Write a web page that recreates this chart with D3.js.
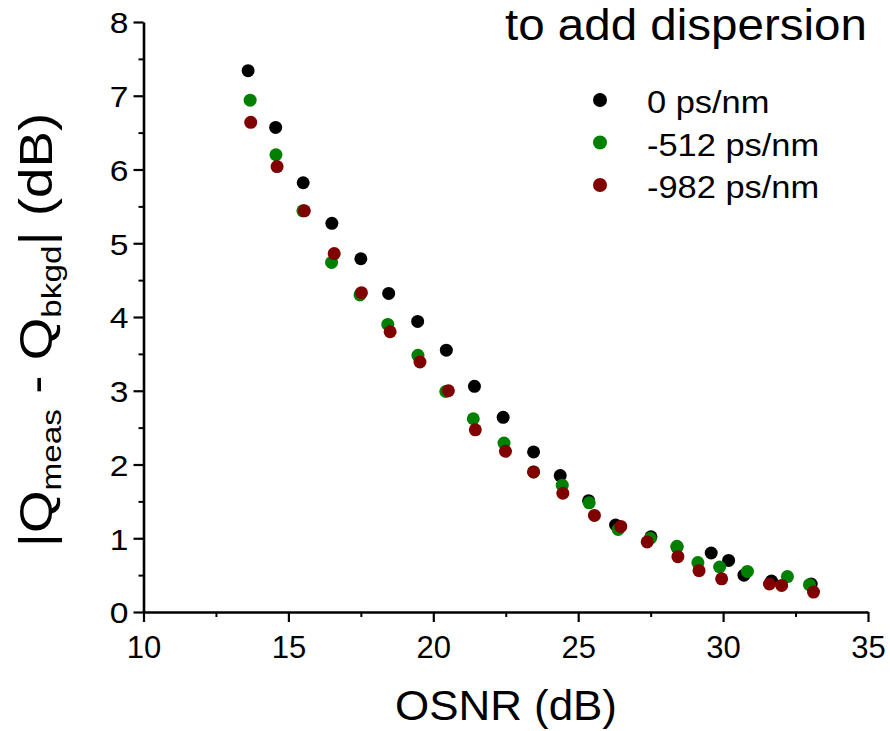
<!DOCTYPE html>
<html>
<head>
<meta charset="utf-8">
<script src="https://cdn.jsdelivr.net/npm/d3@7"></script>
<style>
  body { margin: 0; background: #fff; }
  svg text { font-family: "Liberation Sans", Arial, sans-serif; fill: #000; }
</style>
</head>
<body>
<div id="chart"></div>
<script>
// values
var seriesNames = ["0 ps/nm", "-512 ps/nm", "-982 ps/nm"];
var seriesColors = ["#000000", "#008000", "#800000"];

var osnr0 = [13.61, 14.56, 15.51, 16.50, 17.50, 18.46, 19.46, 20.45, 21.42, 22.41, 23.46, 24.38, 25.36, 26.29, 27.51, 28.41, 29.59, 30.19, 30.72, 31.67, 33.04];
var q0    = [7.34, 6.57, 5.82, 5.27, 4.79, 4.32, 3.94, 3.55, 3.06, 2.64, 2.17, 1.85, 1.51, 1.18, 1.02, 0.88, 0.80, 0.70, 0.50, 0.42, 0.38];

var osnr512 = [13.68, 14.57, 15.50, 16.49, 17.47, 18.43, 19.47, 20.43, 21.38, 22.44, 23.46, 24.45, 25.38, 26.38, 27.49, 28.41, 29.13, 29.88, 30.84, 32.22, 32.98];
var q512    = [6.94, 6.20, 5.44, 4.74, 4.30, 3.90, 3.48, 2.99, 2.62, 2.29, 1.90, 1.72, 1.48, 1.12, 1.00, 0.89, 0.67, 0.61, 0.55, 0.48, 0.37];

var osnr982 = [13.70, 14.61, 15.55, 16.58, 17.52, 18.51, 19.54, 20.52, 21.45, 22.49, 23.46, 24.47, 25.56, 26.47, 27.38, 28.44, 29.17, 29.95, 31.60, 32.02, 33.12];
var q982    = [6.64, 6.04, 5.44, 4.86, 4.33, 3.80, 3.39, 3.00, 2.47, 2.18, 1.90, 1.61, 1.31, 1.16, 0.95, 0.75, 0.56, 0.45, 0.38, 0.36, 0.27];

var xTicks = [10, 15, 20, 25, 30, 35];
var xMinor = [12.5, 17.5, 22.5, 27.5, 32.5];
var yTicks = [0, 1, 2, 3, 4, 5, 6, 7, 8];
var yMinor = [0.5, 1.5, 2.5, 3.5, 4.5, 5.5, 6.5, 7.5];

var series = [
    {name: seriesNames[0], color: seriesColors[0], xs: osnr0, ys: q0},
    {name: seriesNames[1], color: seriesColors[1], xs: osnr512, ys: q512},
    {name: seriesNames[2], color: seriesColors[2], xs: osnr982, ys: q982}
];

var W = 890, H = 731;
var margin = {top: 22, right: 22, bottom: 119, left: 143.5},
    width = W - margin.left - margin.right,
    height = H - margin.top - margin.bottom;

var x = d3.scaleLinear().domain([10, 35]).range([0, width]);
var y = d3.scaleLinear().domain([0, 8]).range([height, 0]);

var svg = d3.select("#chart").append("svg")
    .attr("width", W)
    .attr("height", H);

var g = svg.append("g")
    .attr("transform", "translate(" + margin.left + "," + margin.top + ")");

// the glyphs in the original run a bit wider than Liberation Sans
var stretch = function(sel, k) {
    sel.each(function() {
        var w = this.getComputedTextLength();
        d3.select(this).attr("textLength", w * k).attr("lengthAdjust", "spacingAndGlyphs");
    });
};

// minor ticks
g.append("g")
    .attr("transform", "translate(0," + height + ")")
    .call(d3.axisBottom(x).tickValues(xMinor).tickSize(5).tickFormat(""))
    .call(function(a) { a.select(".domain").remove(); })
    .selectAll("line").attr("stroke-width", 2);

g.append("g")
    .call(d3.axisLeft(y).tickValues(yMinor).tickSize(5).tickFormat(""))
    .call(function(a) { a.select(".domain").remove(); })
    .selectAll("line").attr("stroke-width", 2);

// major ticks + labels
var xAxis = g.append("g")
    .attr("transform", "translate(0," + height + ")")
    .call(d3.axisBottom(x).tickValues(xTicks).tickSize(10).tickSizeOuter(0).tickPadding(10));
xAxis.select(".domain").attr("stroke-width", 2.6);
xAxis.selectAll("line").attr("stroke-width", 2.2);
xAxis.selectAll("text")
    .attr("font-size", "31px")
    .attr("dy", null)
    .attr("y", 46);

var yAxis = g.append("g")
    .call(d3.axisLeft(y).tickValues(yTicks).tickSize(10).tickSizeOuter(0).tickPadding(5));
yAxis.select(".domain").attr("stroke-width", 2.6);
yAxis.selectAll("line").attr("stroke-width", 2.2);
yAxis.selectAll("text")
    .attr("font-size", "30px")
    .attr("dy", "0.36em")
    .call(stretch, 1.12);

// points
series.forEach(function(s) {
    var pts = s.xs.map(function(v, i) { return {x: v, y: s.ys[i]}; });
    g.append("g").selectAll("circle")
        .data(pts)
        .enter().append("circle")
        .attr("cx", function(d) { return x(d.x); })
        .attr("cy", function(d) { return y(d.y); })
        .attr("r", 6.5)
        .attr("fill", s.color);
});

// legend
var legend = svg.append("g").attr("transform", "translate(600,100)");
series.forEach(function(s, i) {
    legend.append("circle")
        .attr("cx", 0)
        .attr("cy", i * 42.5)
        .attr("r", 7)
        .attr("fill", s.color);
    legend.append("text")
        .attr("x", 47)
        .attr("y", i * 42.5 + 13)
        .attr("font-size", "31px")
        .text(s.name)
        .call(stretch, 1.11);
});

// title in the corner
svg.append("text")
    .attr("x", 505)
    .attr("y", 40)
    .attr("font-size", "44px")
    .attr("textLength", 362)
    .attr("lengthAdjust", "spacingAndGlyphs")
    .text("to add dispersion");

// axis titles
svg.append("text")
    .attr("x", 395)
    .attr("y", 720)
    .attr("font-size", "43px")
    .attr("textLength", 222)
    .attr("lengthAdjust", "spacingAndGlyphs")
    .text("OSNR (dB)");

var yt = svg.append("text")
    .attr("transform", "translate(52,330) rotate(-90) scale(1.19,1)")
    .attr("text-anchor", "middle")
    .attr("font-size", "46px");
yt.append("tspan").text("|Q");
yt.append("tspan").attr("font-size", "28px").attr("dy", 9).text("meas");
yt.append("tspan").attr("dy", -9).text(" - Q");
yt.append("tspan").attr("font-size", "28px").attr("dy", 9).text("bkgd");
yt.append("tspan").attr("dy", -9).text("| (dB)");
</script>
</body>
</html>
